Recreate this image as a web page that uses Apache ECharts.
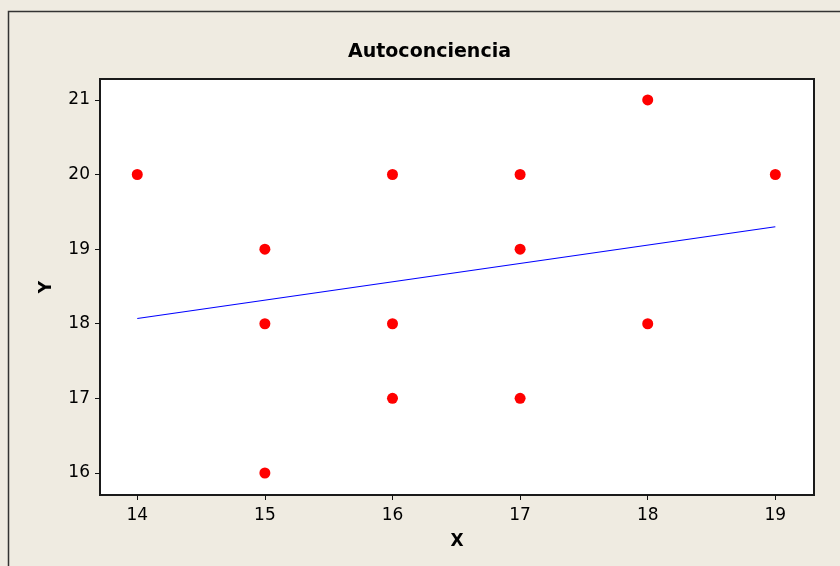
<!DOCTYPE html>
<html>
<head>
<meta charset="utf-8">
<script src="https://cdn.jsdelivr.net/npm/echarts@6/dist/echarts.min.js"></script>
<style>
  html, body { margin: 0; padding: 0; background: #efebe1; }
  #chart { width: 840px; height: 566px; }
</style>
</head>
<body>
<div id="chart"></div>
<script>
// scatter points
const pointsX = [14, 15, 15, 15, 16, 16, 16, 17, 17, 17, 18, 18, 19];
const pointsY = [20, 19, 18, 16, 20, 18, 17, 20, 19, 17, 21, 18, 20];

// fitted line end points
const fitX = [14, 19];
const fitY = [18.07, 19.30];

const xTicks = [14, 15, 16, 17, 18, 19];
const yTicks = [16, 17, 18, 19, 20, 21];

const font = 'DejaVu Sans';

const chart = echarts.init(document.getElementById('chart'), null, { renderer: 'canvas' });

chart.setOption({
    backgroundColor: '#efebe1',
    animation: false,
    title: {
        text: 'Autoconciencia',
        left: 343,
        top: 38,
        textStyle: { fontFamily: font, fontWeight: 'bold', fontSize: 19, color: '#000' },
    },
    graphic: [
        {
            type: 'rect',
            shape: { x: 8.5, y: 11.5, width: 900, height: 700 },
            style: { fill: 'none', stroke: '#333', lineWidth: 1.5 },
            z: -1,
        },
    ],
    grid: {
        left: 100,
        top: 79,
        right: 26,
        bottom: 71,
        show: true,
        backgroundColor: '#fff',
        borderColor: '#1a1a1a',
        borderWidth: 2,
    },
    xAxis: {
        type: 'value',
        min: 13.708,
        max: 19.303,
        name: 'X',
        nameLocation: 'middle',
        nameGap: 38,
        nameTextStyle: { fontFamily: font, fontWeight: 'bold', fontSize: 17, color: '#000' },
        axisLine: { show: false },
        axisTick: { show: true, length: 5, customValues: xTicks, lineStyle: { color: '#111' } },
        axisLabel: {
            customValues: xTicks,
            margin: 12,
            fontFamily: font,
            fontSize: 17,
            color: '#000',
        },
        splitLine: { show: false },
    },
    yAxis: {
        type: 'value',
        min: 15.705,
        max: 21.28,
        name: 'Y',
        nameLocation: 'middle',
        nameGap: 45,
        nameRotate: 90,
        nameTextStyle: { fontFamily: font, fontWeight: 'bold', fontSize: 17, color: '#000' },
        axisLine: { show: false },
        axisTick: { show: true, length: 5, customValues: yTicks, lineStyle: { color: '#111' } },
        axisLabel: {
            customValues: yTicks,
            margin: 10,
            fontFamily: font,
            fontSize: 17,
            color: '#000',
        },
        splitLine: { show: false },
    },
    series: [
        {
            type: 'line',
            data: fitX.map((x, i) => [x, fitY[i]]),
            symbol: 'none',
            lineStyle: { color: '#0000ff', width: 1.2 },
            silent: true,
            z: 1,
        },
        {
            type: 'scatter',
            data: pointsX.map((x, i) => [x, pointsY[i]]),
            symbol: 'circle',
            symbolSize: 11,
            itemStyle: { color: '#ff0000', opacity: 1 },
            z: 2,
        },
    ],
});
</script>
</body>
</html>
